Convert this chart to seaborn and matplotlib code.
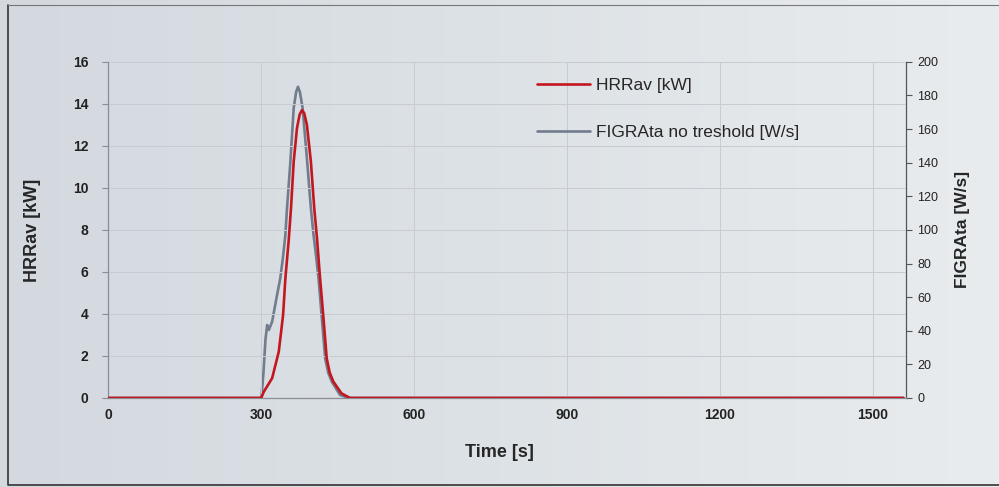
import numpy as np
import pandas as pd
import matplotlib
matplotlib.use("Agg")
import matplotlib.pyplot as plt
import seaborn as sns
from matplotlib.colors import LinearSegmentedColormap
from matplotlib.lines import Line2D

# ---- data ----
hrr_time = [0, 150, 300.5, 305.8, 322, 335, 343.5, 348, 354.5, 359, 364.3, 370.7, 376, 380.5,
            385, 390.2, 398, 404.6, 410, 416, 422.7, 429, 435, 442, 458, 474.6, 600, 900, 1200, 1560]
hrr_kw = [0, 0, 0, 0.3, 0.94, 2.2, 3.95, 5.7, 7.5, 9.03, 11.25, 12.84, 13.5, 13.7,
          13.55, 13.0, 11.25, 9.03, 7.6, 5.7, 3.8, 1.89, 1.2, 0.78, 0.22, 0, 0, 0, 0, 0]

figra_time = [0, 150, 301, 305, 309, 312.3, 315.6, 322, 331.7, 338, 343, 348, 351.2, 357.8,
              364.3, 369, 372.7, 376.5, 381.8, 390.2, 398, 403.2, 406.5, 413, 419.5, 426, 432,
              439, 455, 472, 600, 900, 1200, 1560]
figra_ws = [0, 0, 0, 15, 35, 43.4, 40.5, 45.4, 61.3, 71.2, 83, 97, 112.9, 140.6,
            172.4, 182, 185.2, 182, 172.4, 142.6, 112.9, 97, 89, 71.2, 47.4, 23.6, 15,
            9.7, 1.8, 0, 0, 0, 0, 0]

x_ticks = [0, 300, 600, 900, 1200, 1500]
left_ticks = [0, 2, 4, 6, 8, 10, 12, 14, 16]
right_ticks = [0, 20, 40, 60, 80, 100, 120, 140, 160, 180, 200]

hrr_df = pd.DataFrame({"time": hrr_time, "value": hrr_kw})
figra_df = pd.DataFrame({"time": figra_time, "value": figra_ws})

sns.set_style("white")
plt.rcParams["font.family"] = ["Liberation Sans", "DejaVu Sans"]

RED = "#c4161f"
GRAY = "#717c8c"
BG = "#dde2e6"

fig = plt.figure(figsize=(9.99, 4.87), dpi=100, facecolor=BG)

# subtle photo-like background gradient (darker left, lighter right)
bg_ax = fig.add_axes([0, 0, 1, 1], zorder=-10)
grad = np.linspace(0, 1, 256)[None, :]
cmap = LinearSegmentedColormap.from_list("bg", ["#d3d9df", "#dde2e6", "#e9ecee"])
bg_ax.imshow(grad, aspect="auto", cmap=cmap, extent=[0, 1, 0, 1])
bg_ax.set_xlim(0, 1); bg_ax.set_ylim(0, 1)
bg_ax.axis("off")
# chart border
bg_ax.plot([0.008, 0.008, 1.0], [0.99, 0.005, 0.005], color="#333333", lw=1.2)
bg_ax.plot([0.008, 1.0], [0.99, 0.99], color="#777777", lw=0.8)

ax = fig.add_axes([0.108, 0.1828, 0.799, 0.6902])
ax.patch.set_alpha(0)
ax2 = ax.twinx()
ax2.patch.set_alpha(0)

sns.lineplot(data=figra_df, x="time", y="value", ax=ax2, color=GRAY, lw=1.9, zorder=3)
sns.lineplot(data=hrr_df, x="time", y="value", ax=ax, color=RED, lw=1.9, zorder=4)
ax.set_zorder(ax2.get_zorder() + 1)

ax.set_xlim(0, 1565)
ax.set_ylim(0, 16)
ax2.set_ylim(0, 200)
ax.set_xticks(x_ticks)
ax.set_yticks(left_ticks)
ax2.set_yticks(right_ticks)
ax.set_xticklabels([str(v) for v in x_ticks], fontsize=10, fontweight="bold", color="#222222")
ax.set_yticklabels([str(v) for v in left_ticks], fontsize=10, fontweight="bold", color="#222222")
ax2.set_yticklabels([str(v) for v in right_ticks], fontsize=9, color="#222222")

ax.grid(True, color="#c8ccd2", lw=0.7)
ax.set_axisbelow(True)

for a in (ax, ax2):
    for s in a.spines.values():
        s.set_visible(False)
ax.spines["left"].set_visible(True)
ax.spines["left"].set_color("#8a8e94")
ax.spines["left"].set_linewidth(0.9)
ax.spines["bottom"].set_visible(True)
ax.spines["bottom"].set_color("#8a8e94")
ax.spines["bottom"].set_linewidth(0.9)
ax2.spines["right"].set_visible(True)
ax2.spines["right"].set_color("#555555")
ax2.spines["right"].set_linewidth(0.9)

ax.tick_params(axis="y", length=4, color="#8a8e94", direction="out", pad=10)
ax.tick_params(axis="x", length=0, pad=7)
ax2.tick_params(axis="y", length=4, color="#555555", direction="out", pad=4)

ax.set_xlabel("Time [s]", fontsize=13, fontweight="bold")
ax.xaxis.set_label_coords(0.491, -0.136)
ax.set_ylabel("HRRav [kW]", fontsize=13, fontweight="bold", labelpad=23)
ax2.set_ylabel("FIGRAta [W/s]", fontsize=12.5, fontweight="bold", labelpad=12)

handles = [Line2D([], [], color=RED, lw=1.9), Line2D([], [], color=GRAY, lw=1.9)]
leg = ax.legend(handles, ["HRRav [kW]", "FIGRAta no treshold [W/s]"],
                loc="upper left", bbox_to_anchor=(0.5175, 1.0), frameon=False,
                fontsize=12.5, handlelength=3.05, handletextpad=0.4, labelspacing=1.85)

fig.savefig("out.png", dpi=100, facecolor=fig.get_facecolor())
